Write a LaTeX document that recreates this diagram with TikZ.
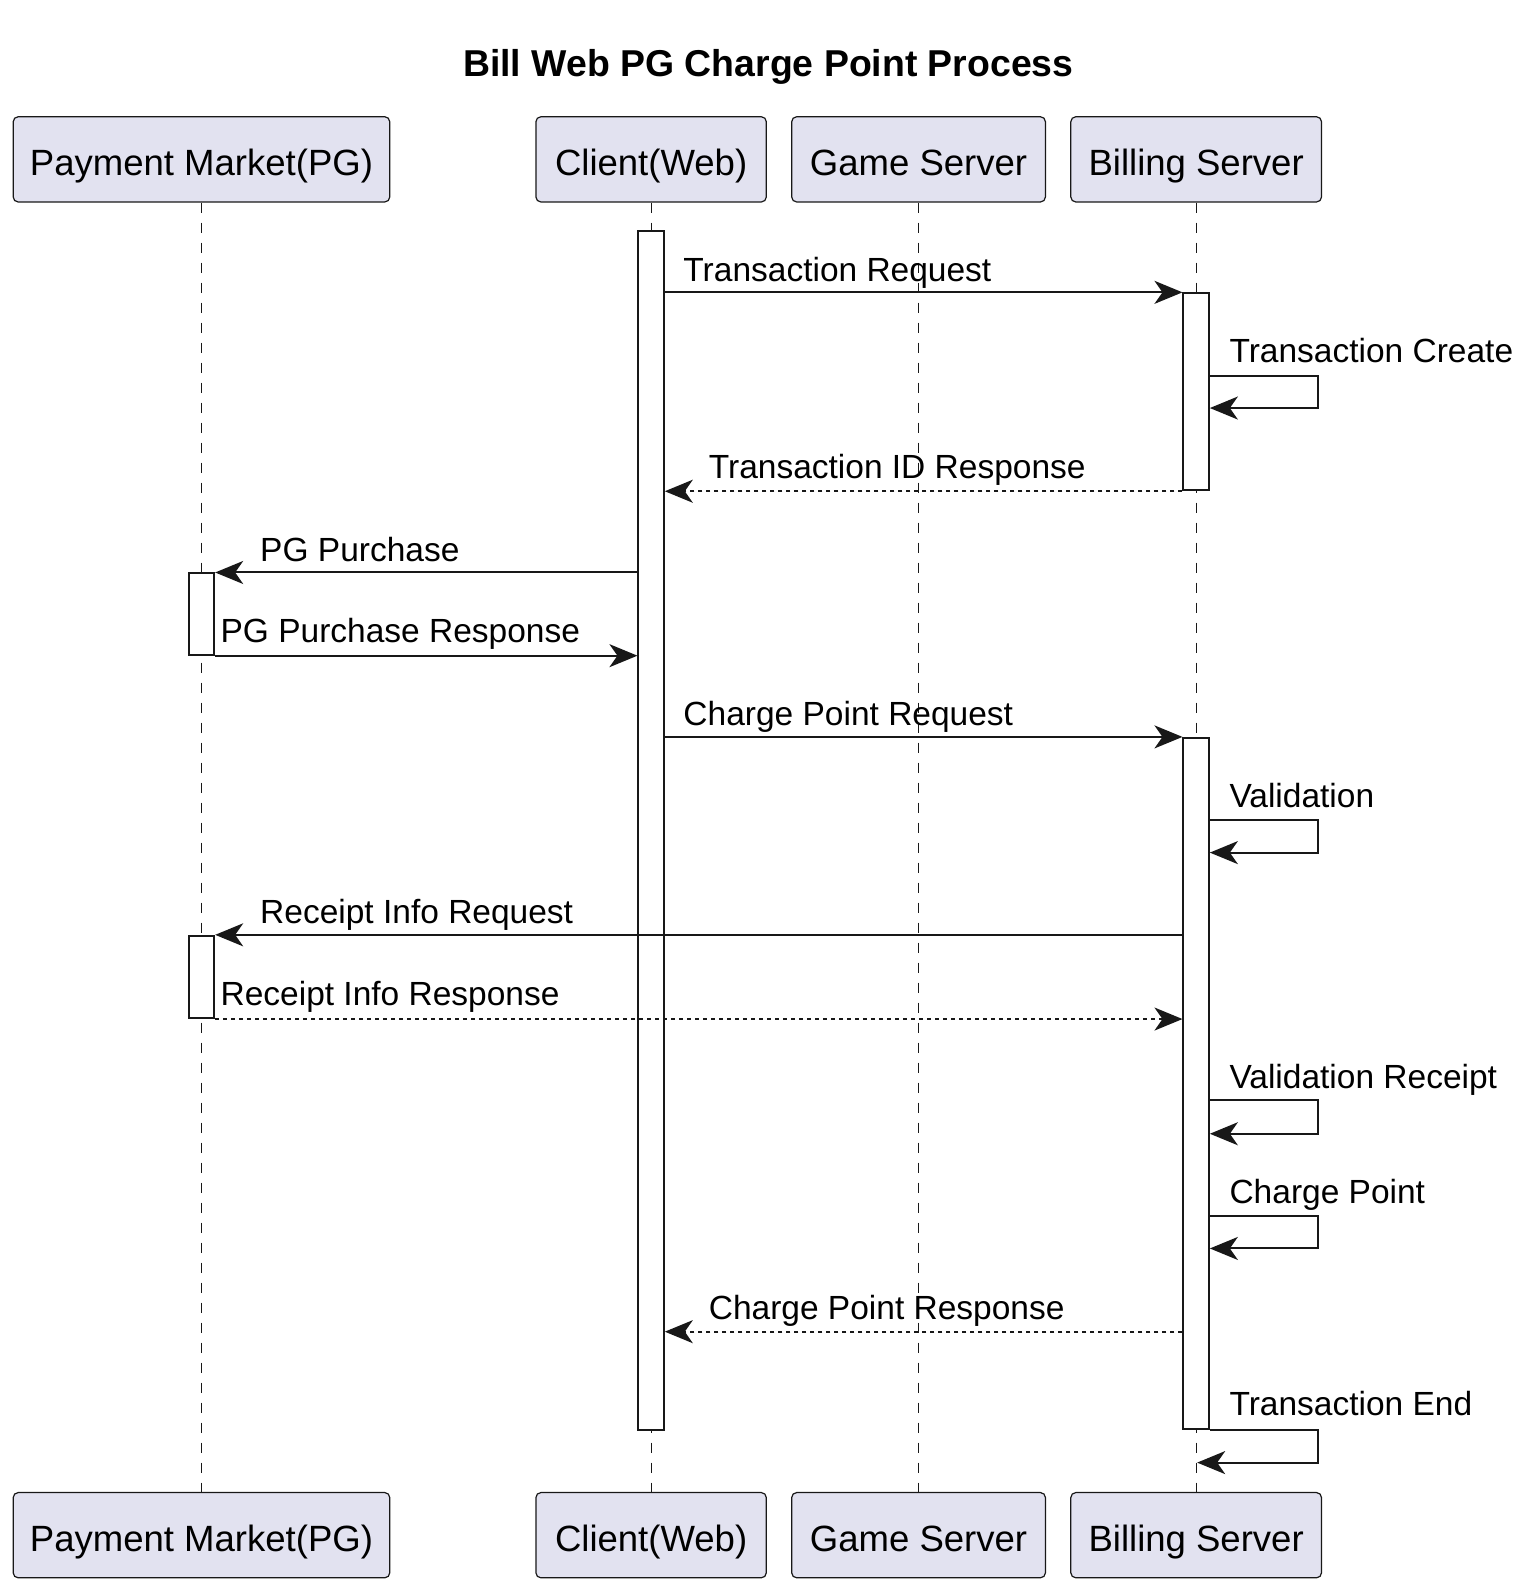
\documentclass[tikz,border=0pt]{standalone}
\usepackage{fontspec}
\setmainfont{Liberation Sans}
\usetikzlibrary{arrows.meta}
\definecolor{partfill}{HTML}{E2E2F0}
\definecolor{ink}{HTML}{181818}
\newdimen\pxu
\pxu=0.5075pt
\begin{document}
\begin{tikzpicture}[x=0.5075pt,y=-0.5075pt,
  part/.style={draw=ink, fill=partfill, line width=0.6pt, rounded corners=2.5pt, minimum height=84*\pxu, inner sep=0pt, text height=16.5pt, text depth=0.5pt, font=\fontsize{18.27}{20}\selectfont, text=black},
  actbar/.style={draw=ink, fill=white, line width=1pt, minimum width=25*\pxu, inner sep=0pt},
  life/.style={draw=ink, line width=0.6pt, dash pattern=on 5pt off 5pt},
  msg/.style={draw=ink, line width=1pt, -{Stealth[length=14pt,width=11.5pt,inset=4pt]}},
  ret/.style={msg, dash pattern=on 2pt off 2pt},
  lbl/.style={anchor=base west, inner sep=0pt, font=\fontsize{16.75}{18}\selectfont, text=black},
]
\useasboundingbox (0,0) rectangle (1504.4,1567.5);
\node[font=\bfseries\fontsize{18.7}{20}\selectfont] (title) at (757,66) {Bill Web PG Charge Point Process};

% participants
\node[part, minimum width=371*\pxu] (pmT) at (198.5,157) {Payment Market(PG)};
\node[part, minimum width=227*\pxu] (cwT) at (641.5,157) {Client(Web)};
\node[part, minimum width=250*\pxu] (gsT) at (905,157)   {Game Server};
\node[part, minimum width=247*\pxu] (bsT) at (1178.5,157) {Billing Server};
\node[part, minimum width=371*\pxu] (pmB) at (198.5,1512.5) {Payment Market(PG)};
\node[part, minimum width=227*\pxu] (cwB) at (641.5,1512.5) {Client(Web)};
\node[part, minimum width=250*\pxu] (gsB) at (905,1512.5)   {Game Server};
\node[part, minimum width=247*\pxu] (bsB) at (1178.5,1512.5) {Billing Server};

% lifelines
\draw[life] (pmT) -- (pmB);
\draw[life] (cwT) -- (cwB);
\draw[life] (gsT) -- (gsB);
\draw[life] (bsT) -- (bsB);

% activation bars
\node[actbar, minimum height=1181*\pxu] (cb)  at (641.5,818.5) {};
\node[actbar, minimum height=194*\pxu]  (ba1) at (1178.5,386) {};
\node[actbar, minimum height=80*\pxu]   (pa1) at (198.5,605) {};
\node[actbar, minimum height=681*\pxu]  (ba2) at (1178.5,1067.5) {};
\node[actbar, minimum height=81*\pxu]   (pa2) at (198.5,962.5) {};

% messages
\draw[msg] (cb.east |- ba1.north) -- (ba1.north west);
\node[lbl] (l1) at (673,277) {Transaction Request};

\draw[msg] (ba1.east |- 0,370) -- ++(107,0) -- ++(0,32) -- (ba1.east |- 0,402);
\node[lbl] (l2) at (1211,357) {Transaction Create};

\draw[ret] (ba1.south west) -- (cb.east |- ba1.south);
\node[lbl] (l3) at (698,471) {Transaction ID Response};

\draw[msg] (cb.west |- pa1.north) -- (pa1.north east);
\node[lbl] (l4) at (256,553) {PG Purchase};

\draw[msg] (pa1.south east) -- (cb.west |- pa1.south);
\node[lbl] (l5) at (217,633) {PG Purchase Response};

\draw[msg] (cb.east |- ba2.north) -- (ba2.north west);
\node[lbl] (l6) at (673,715) {Charge Point Request};

\draw[msg] (ba2.east |- 0,808) -- ++(107,0) -- ++(0,32) -- (ba2.east |- 0,840);
\node[lbl] (l7) at (1211,796) {Validation};

\draw[msg] (ba2.west |- pa2.north) -- (pa2.north east);
\node[lbl] (l8) at (256,910) {Receipt Info Request};

\draw[ret] (pa2.south east) -- (ba2.west |- pa2.south);
\node[lbl] (l9) at (217,991) {Receipt Info Response};

\draw[msg] (ba2.east |- 0,1084) -- ++(107,0) -- ++(0,33) -- (ba2.east |- 0,1117);
\node[lbl] (l10) at (1211,1072) {Validation Receipt};

\draw[msg] (ba2.east |- 0,1198) -- ++(107,0) -- ++(0,32) -- (ba2.east |- 0,1230);
\node[lbl] (l11) at (1211,1186) {Charge Point};

\draw[ret] (ba2.west |- 0,1312) -- (cb.east |- 0,1312);
\node[lbl] (l12) at (698,1300) {Charge Point Response};

\draw[msg] (ba2.south east) -- ++(107,0) -- ++(0,32) -- ++(-119.5,0);
\node[lbl] (l13) at (1211,1395) {Transaction End};
\end{tikzpicture}
\end{document}
